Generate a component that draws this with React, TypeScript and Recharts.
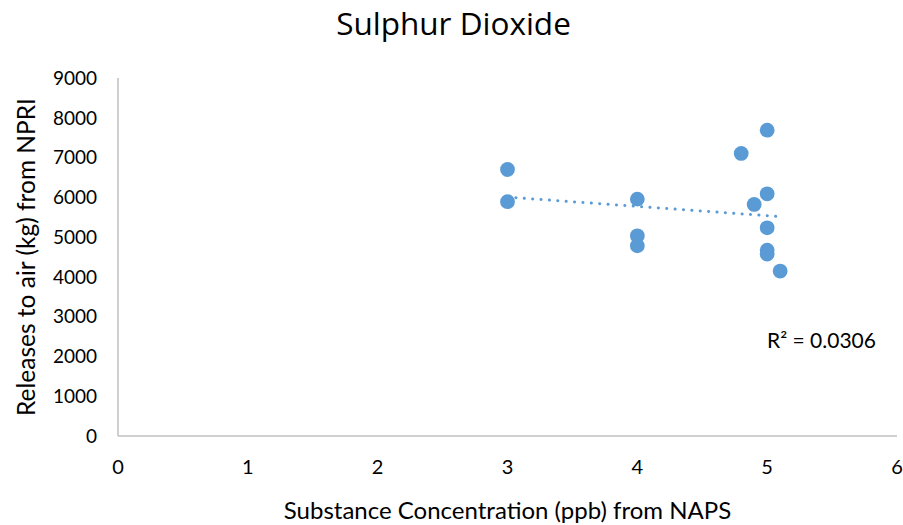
import { ScatterChart, Scatter, XAxis, YAxis, Label } from 'recharts';

// SO2 concentration (ppb, NAPS) vs releases to air (kg, NPRI)
const concentration = [3, 3, 4, 4, 4, 4.8, 5, 5, 4.9, 5, 5, 5, 5.1];
const releases = [6700, 5890, 5955, 5033, 4781, 7103, 7688, 6088, 5822, 5234, 4673, 4573, 4146];

// linear trendline end points
const trendX = [3, 5.1];
const trendY = [6006, 5515];

const xTicks = [0, 1, 2, 3, 4, 5, 6];
const yTicks = [0, 1000, 2000, 3000, 4000, 5000, 6000, 7000, 8000, 9000];

const points = concentration.map((x, i) => ({ x, y: releases[i] }));
const trend = trendX.map((x, i) => ({ x, y: trendY[i] }));

const FONT = 'Lato, "Open Sans", sans-serif';
const TITLE_FONT = '"Open Sans", Lato, sans-serif';
const BLUE = '#5b9bd5';

const Dot = (props: any) => {
  const { cx, cy } = props;
  if (cx == null || cy == null) return null;
  return <circle cx={cx} cy={cy} r={7.4} fill={BLUE} />;
};

const App = () => {
  return (
    <div
      style={{
        position: 'absolute',
        left: 0,
        top: 0,
        width: 903,
        height: 525,
        background: '#fff',
        fontFamily: FONT,
      }}
    >
      <div
        style={{
          position: 'absolute',
          left: 0,
          width: 907,
          top: 1,
          textAlign: 'center',
          fontSize: 31.5,
          fontFamily: TITLE_FONT,
          color: '#000',
        }}
      >
        Sulphur Dioxide
      </div>
      <ScatterChart
        width={903}
        height={525}
        margin={{ top: 78, right: 6, bottom: 0, left: 0 }}
      >
        <XAxis
          type="number"
          dataKey="x"
          domain={[0, 6]}
          ticks={xTicks}
          tickLine={false}
          tickMargin={18}
          axisLine={{ stroke: '#bfbfbf', strokeWidth: 1.5 }}
          tick={{ fill: '#000', fontSize: 20, fontFamily: FONT }}
          height={89}
        >
          <Label
            value="Substance Concentration (ppb) from NAPS"
            position="insideBottom"
            offset={6}
            style={{ fill: '#000', fontSize: 24, fontFamily: FONT }}
          />
        </XAxis>
        <YAxis
          type="number"
          dataKey="y"
          domain={[0, 9000]}
          ticks={yTicks}
          tickLine={false}
          tickMargin={15}
          axisLine={{ stroke: '#bfbfbf', strokeWidth: 1.5 }}
          tick={{ fill: '#000', fontSize: 19, fontFamily: FONT }}
          width={118}
        >
          <Label
            value="Releases to air (kg) from NPRI"
            angle={-90}
            position="insideLeft"
            offset={26}
            style={{ textAnchor: 'middle', fill: '#000', fontSize: 24.5, fontFamily: FONT }}
          />
        </YAxis>
        <Scatter
          data={trend}
          line={{ stroke: BLUE, strokeWidth: 3, strokeDasharray: '0.1 8.3', strokeLinecap: 'round' }}
          shape={() => null}
          isAnimationActive={false}
        />
        <Scatter data={points} fill={BLUE} shape={Dot} isAnimationActive={false} />
      </ScatterChart>
      <div
        style={{
          position: 'absolute',
          left: 767,
          top: 327,
          fontSize: 21,
          color: '#000',
          whiteSpace: 'nowrap',
        }}
      >
        R² = 0.0306
      </div>
    </div>
  );
};

export default App;
